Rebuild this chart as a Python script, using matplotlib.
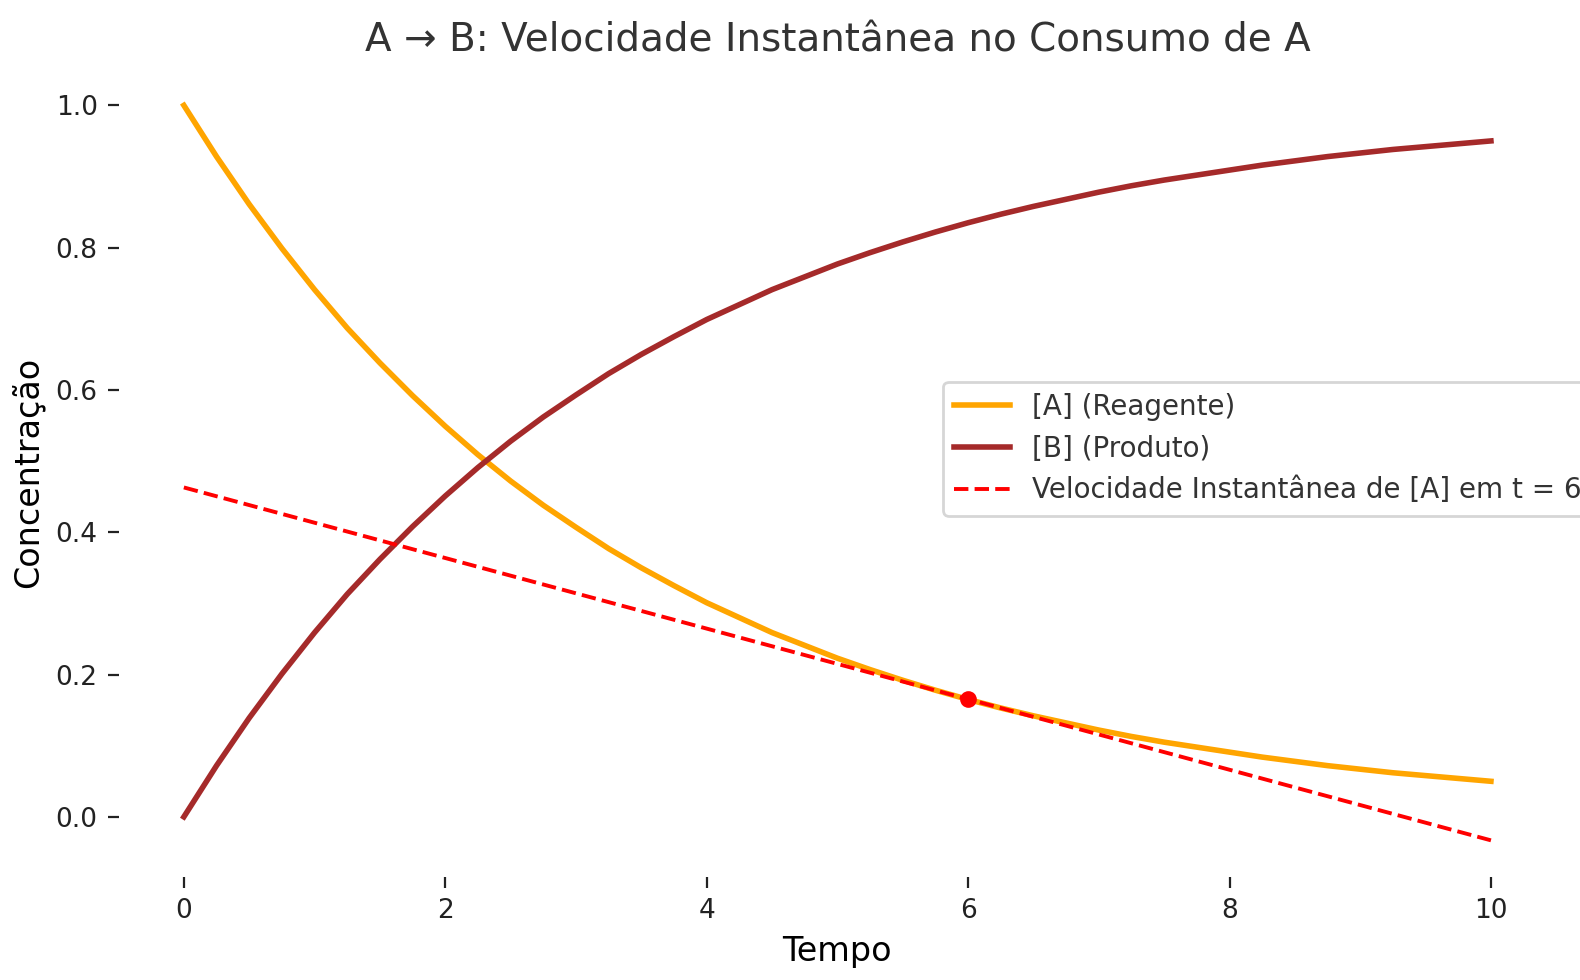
import matplotlib.pyplot as plt

# values
t = [i * 0.25 for i in range(41)]
conc_a = [1.000, 0.928, 0.861, 0.799, 0.741, 0.687, 0.638, 0.592, 0.549, 0.509,
          0.472, 0.438, 0.407, 0.377, 0.350, 0.325, 0.301, 0.280, 0.259, 0.241,
          0.223, 0.207, 0.192, 0.178, 0.165, 0.153, 0.142, 0.132, 0.122, 0.113,
          0.105, 0.098, 0.091, 0.084, 0.078, 0.072, 0.067, 0.062, 0.058, 0.054, 0.050]
conc_b = [round(1 - a, 3) for a in conc_a]  # [B] mirrors [A] in the picture
tangent_t = [0, 10]
tangent_y = [0.463, -0.033]
point_t, point_y = 6, 0.165

fig, ax = plt.subplots(figsize=(7.9, 4.9), dpi=200)
ax.plot(t, conc_a, color="orange", lw=2, label="[A] (Reagente)")
ax.plot(t, conc_b, color="brown", lw=2, label="[B] (Produto)")
ax.plot(tangent_t, tangent_y, "r--", lw=1.4, label="Velocidade Instantânea de [A] em t = 6")
ax.plot(point_t, point_y, "o", color="red", ms=5)

for s in ax.spines.values():
    s.set_visible(False)
ax.tick_params(labelsize=9.5, colors="#222222", length=4)
ax.set_xticks(range(0, 11, 2))
ax.set_yticks([0.0, 0.2, 0.4, 0.6, 0.8, 1.0])
ax.set_xlabel("Tempo", fontsize=12)
ax.set_ylabel("Concentração", fontsize=12)
ax.set_title("A → B: Velocidade Instantânea no Consumo de A", fontsize=14, color="#333333")
leg = ax.legend(loc="center right", fontsize=10, bbox_to_anchor=(1.035, 0.53))
leg.get_frame().set_edgecolor("#cccccc")
for txt in leg.get_texts():
    txt.set_color("#333333")
fig.subplots_adjust(left=0.075, right=0.985, top=0.93, bottom=0.105)
fig.savefig("out.png")
